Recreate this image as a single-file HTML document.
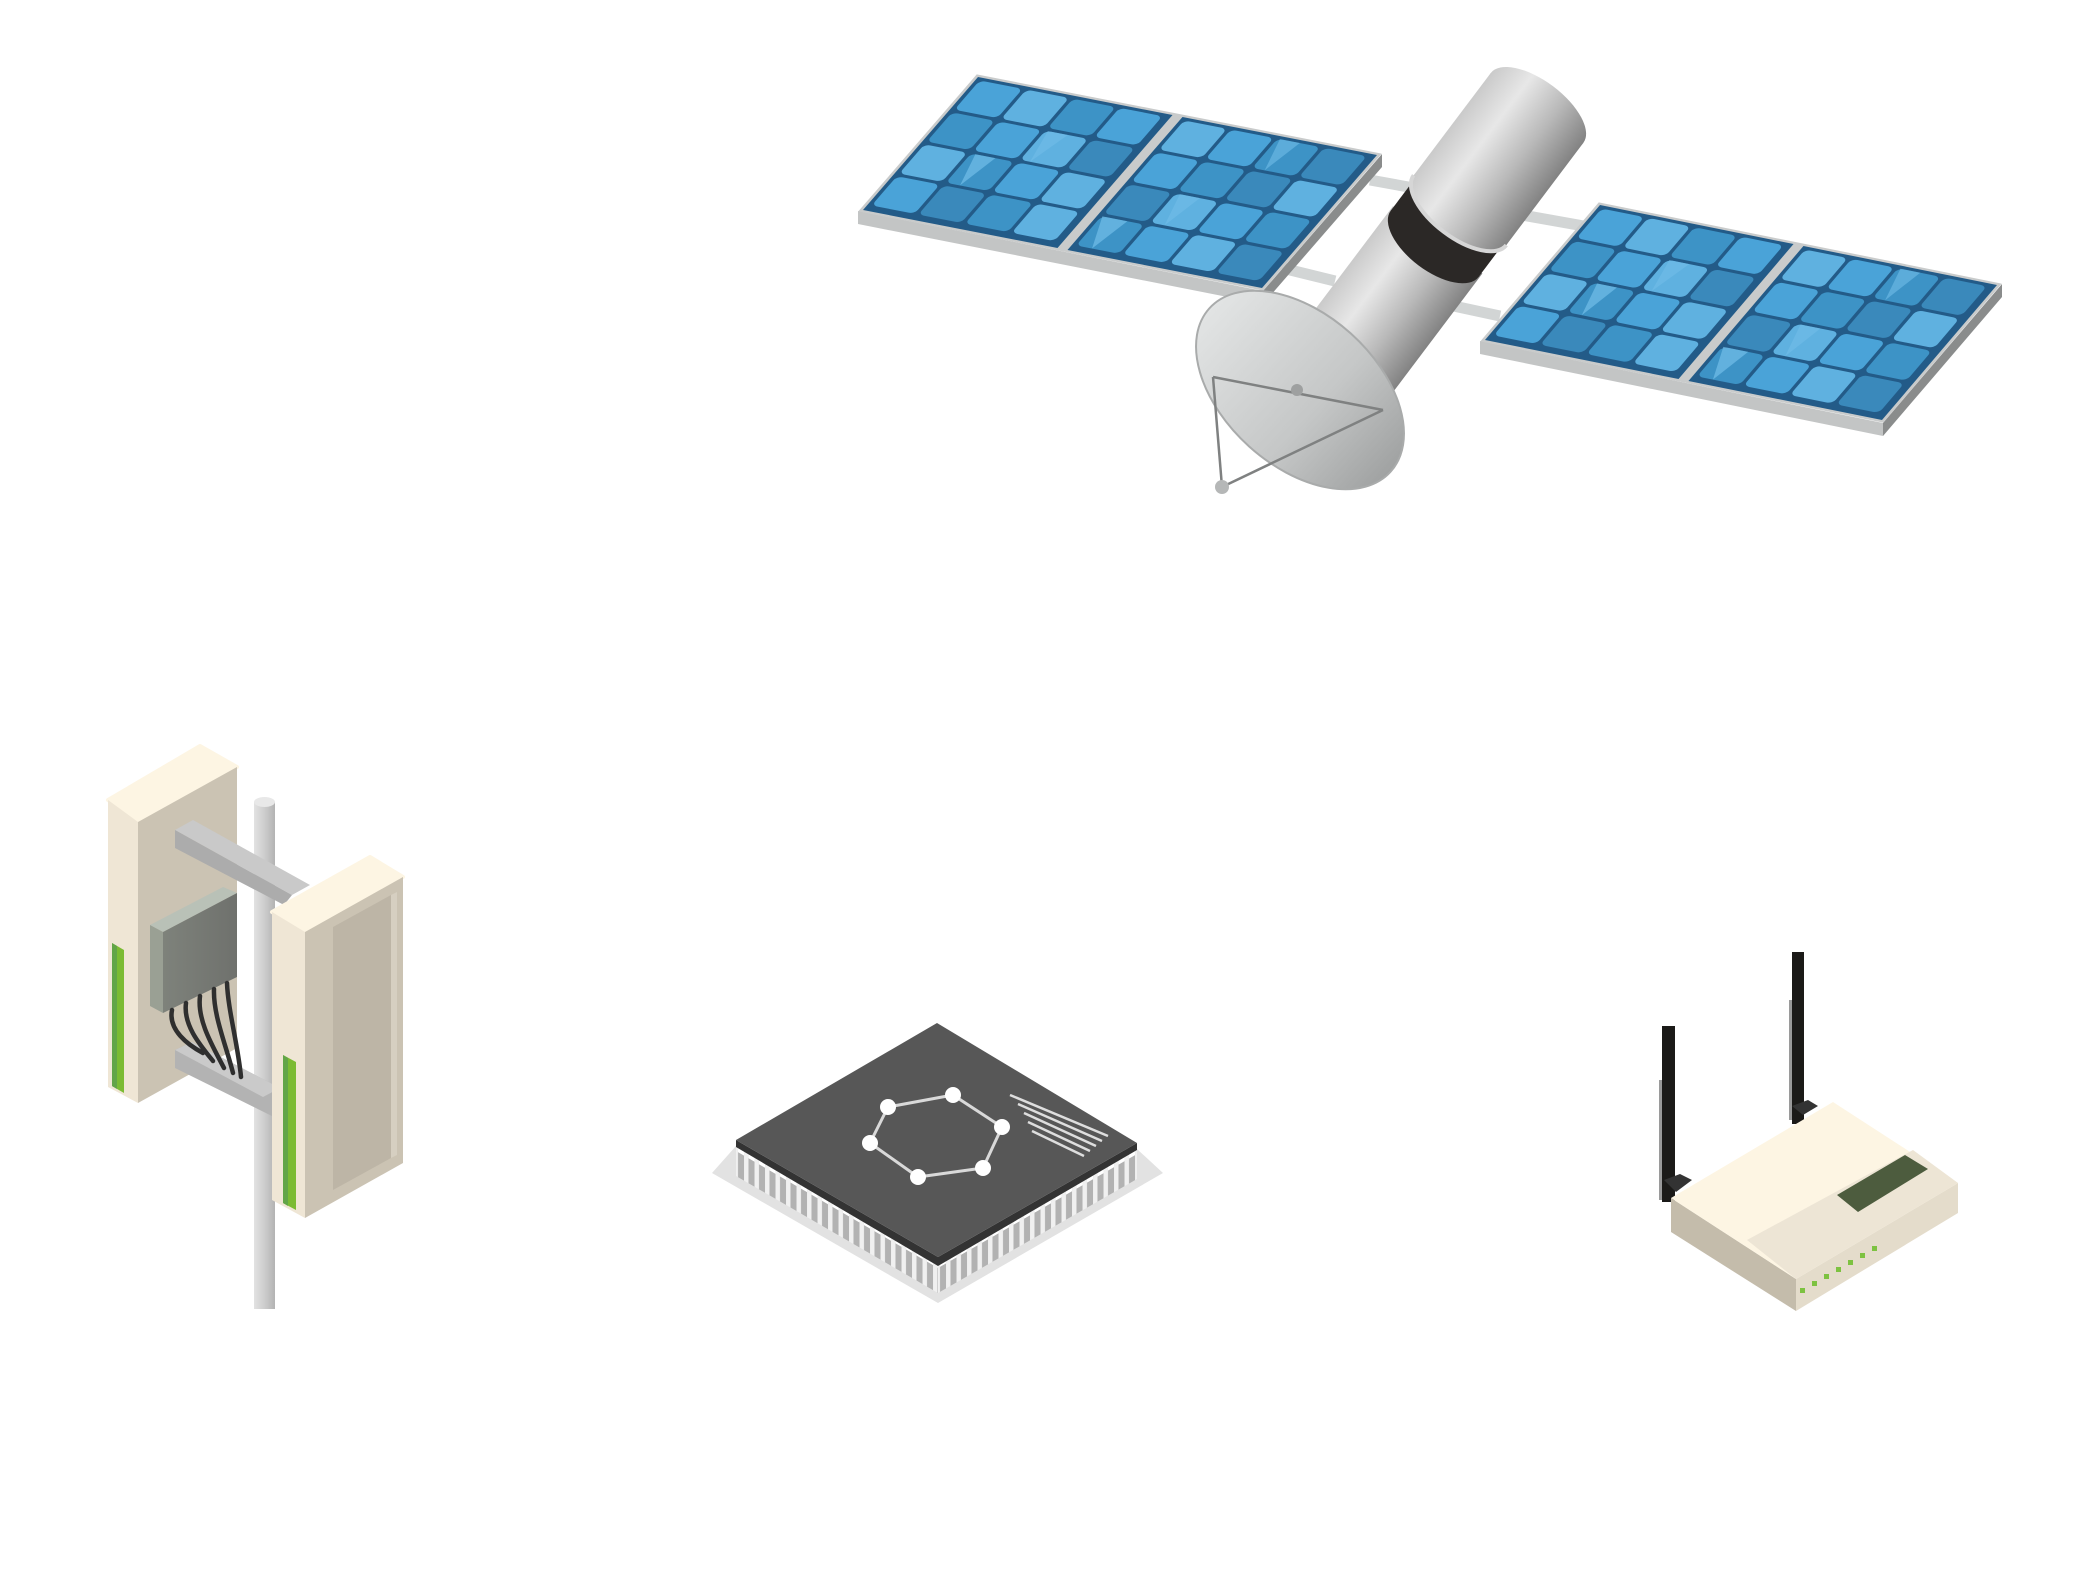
<!DOCTYPE html>
<html><head><meta charset="utf-8"><style>html,body{margin:0;padding:0;background:#fff;}svg{display:block;}</style></head>
<body>
<svg width="2084" height="1592" viewBox="0 0 2084 1592" xmlns="http://www.w3.org/2000/svg" xmlns:xlink="http://www.w3.org/1999/xlink">
<defs>
 <linearGradient id="cyl" x1="0" x2="1" y1="0" y2="0">
  <stop offset="0" stop-color="#cacaca"/><stop offset="0.3" stop-color="#e7e7e7"/><stop offset="0.65" stop-color="#b9b9b9"/><stop offset="1" stop-color="#828282"/>
 </linearGradient>
 <linearGradient id="dishg" x1="0" y1="0" x2="1" y2="0">
  <stop offset="0" stop-color="#e2e4e4"/><stop offset="0.6" stop-color="#c5c7c7"/><stop offset="1" stop-color="#a0a2a2"/>
 </linearGradient>
 <linearGradient id="poleg" x1="0" x2="1" y1="0" y2="0">
  <stop offset="0" stop-color="#e2e2e2"/><stop offset="0.5" stop-color="#cdcdcd"/><stop offset="1" stop-color="#b3b3b3"/>
 </linearGradient>
 <linearGradient id="boxg" x1="0" x2="1" y1="0" y2="0">
  <stop offset="0" stop-color="#7e827b"/><stop offset="1" stop-color="#6f716d"/>
 </linearGradient>
 <pattern id="pins" width="10.5" height="40" patternUnits="userSpaceOnUse">
  <rect x="0" y="0" width="10.5" height="40" fill="#f0f0f0"/>
  <rect x="2" y="0" width="6" height="40" fill="#b2b2b2"/>
  <rect x="2" y="0" width="6" height="5" fill="#ffffff"/>
 </pattern>
 <g id="cells">
  <rect x="-6" y="-6" width="812" height="412" fill="#c9cbcb"/>
  <rect x="0" y="0" width="390" height="400" fill="#235b88"/>
  <rect x="410" y="0" width="390" height="400" fill="#235b88"/>
  <rect x="8" y="8" width="86" height="88" rx="12" fill="#4aa3d8"/>
  <rect x="101.5" y="8" width="86" height="88" rx="12" fill="#5fb1e0"/>
  <rect x="195" y="8" width="86" height="88" rx="12" fill="#3d93c6"/>
  <rect x="288.5" y="8" width="86" height="88" rx="12" fill="#4aa3d8"/>
  <rect x="418" y="8" width="86" height="88" rx="12" fill="#5fb1e0"/>
  <rect x="511.5" y="8" width="86" height="88" rx="12" fill="#4aa3d8"/>
  <rect x="605" y="8" width="86" height="88" rx="12" fill="#3d93c6"/>
  <rect x="698.5" y="8" width="86" height="88" rx="12" fill="#3a89bb"/>
  <rect x="8" y="104" width="86" height="88" rx="12" fill="#3d93c6"/>
  <rect x="101.5" y="104" width="86" height="88" rx="12" fill="#4aa3d8"/>
  <rect x="195" y="104" width="86" height="88" rx="12" fill="#5fb1e0"/>
  <rect x="288.5" y="104" width="86" height="88" rx="12" fill="#3a89bb"/>
  <rect x="418" y="104" width="86" height="88" rx="12" fill="#4aa3d8"/>
  <rect x="511.5" y="104" width="86" height="88" rx="12" fill="#3d93c6"/>
  <rect x="605" y="104" width="86" height="88" rx="12" fill="#3a89bb"/>
  <rect x="698.5" y="104" width="86" height="88" rx="12" fill="#5fb1e0"/>
  <rect x="8" y="200" width="86" height="88" rx="12" fill="#5fb1e0"/>
  <rect x="101.5" y="200" width="86" height="88" rx="12" fill="#3d93c6"/>
  <rect x="195" y="200" width="86" height="88" rx="12" fill="#4aa3d8"/>
  <rect x="288.5" y="200" width="86" height="88" rx="12" fill="#5fb1e0"/>
  <rect x="418" y="200" width="86" height="88" rx="12" fill="#3a89bb"/>
  <rect x="511.5" y="200" width="86" height="88" rx="12" fill="#5fb1e0"/>
  <rect x="605" y="200" width="86" height="88" rx="12" fill="#4aa3d8"/>
  <rect x="698.5" y="200" width="86" height="88" rx="12" fill="#3d93c6"/>
  <rect x="8" y="296" width="86" height="88" rx="12" fill="#4aa3d8"/>
  <rect x="101.5" y="296" width="86" height="88" rx="12" fill="#3a89bb"/>
  <rect x="195" y="296" width="86" height="88" rx="12" fill="#3d93c6"/>
  <rect x="288.5" y="296" width="86" height="88" rx="12" fill="#5fb1e0"/>
  <rect x="418" y="296" width="86" height="88" rx="12" fill="#3d93c6"/>
  <rect x="511.5" y="296" width="86" height="88" rx="12" fill="#4aa3d8"/>
  <rect x="605" y="296" width="86" height="88" rx="12" fill="#5fb1e0"/>
  <rect x="698.5" y="296" width="86" height="88" rx="12" fill="#3a89bb"/>
  <polygon points="110,200 150,200 130,288" fill="#72bde8" opacity="0.7"/>
  <polygon points="420,296 470,296 450,384" fill="#72bde8" opacity="0.7"/>
  <polygon points="200,104 240,104 215,192" fill="#72bde8" opacity="0.6"/>
  <polygon points="610,8 650,8 630,96" fill="#72bde8" opacity="0.6"/>
  <polygon points="520,200 560,200 540,288" fill="#72bde8" opacity="0.6"/>
 </g>
</defs>

<rect width="2084" height="1592" fill="#ffffff"/>

<!-- SATELLITE struts -->
<g stroke="#d2d5d5" stroke-width="11" stroke-linecap="butt">
 <line x1="1370" y1="180" x2="1425" y2="190"/>
 <line x1="1282" y1="268" x2="1335" y2="281"/>
 <line x1="1505" y1="212" x2="1595" y2="228"/>
 <line x1="1435" y1="302" x2="1500" y2="316"/>
</g>

<polygon points="858,211 1263,291 1263,304 858,224" fill="#c3c5c5"/>
<polygon points="1382,154 1263,291 1263,304 1382,167" fill="#8a8c8c"/>
<g transform="matrix(0.49875,0.0975,-0.2875,0.3325,978,77)">
 <use xlink:href="#cells" href="#cells"/>
</g>

<polygon points="1480,341 1883,423 1883,436 1480,354" fill="#c3c5c5"/>
<polygon points="2002,284 1883,423 1883,436 2002,297" fill="#8a8c8c"/>
<g transform="matrix(0.49625,0.1,-0.2875,0.3375,1600,205)">
 <use xlink:href="#cells" href="#cells"/>
</g>

<g transform="translate(1537,108) rotate(37)">
 <rect x="-56" y="165" width="112" height="170" fill="url(#cyl)"/>
 <ellipse cx="0" cy="335" rx="56" ry="27" fill="url(#cyl)"/>
 <rect x="-55" y="128" width="110" height="42" fill="#2b2826"/>
 <ellipse cx="0" cy="170" rx="55" ry="27" fill="#2b2826"/>
 <rect x="-58" y="0" width="116" height="128" fill="url(#cyl)"/>
 <ellipse cx="0" cy="128" rx="58" ry="27" fill="url(#cyl)"/>
 <path d="M-58,128 A58,27 0 0 0 58,128" fill="none" stroke="#d6d6d6" stroke-width="4"/>
 <ellipse cx="0" cy="0" rx="58" ry="27" fill="url(#cyl)"/>
</g>

<g transform="translate(1300,390) rotate(42)">
 <ellipse cx="0" cy="0" rx="122" ry="76" fill="url(#dishg)" stroke="#a9abab" stroke-width="2"/>
</g>
<g stroke="#7f8181" stroke-width="2.5" fill="none">
 <line x1="1213" y1="377" x2="1383" y2="410"/>
 <line x1="1213" y1="377" x2="1222" y2="487"/>
 <line x1="1383" y1="410" x2="1222" y2="487"/>
</g>
<circle cx="1297" cy="390" r="6" fill="#9ea0a0"/>
<circle cx="1222" cy="487" r="7" fill="#b5b7b7"/>

<!-- ANTENNA TOWER -->
<polygon points="108,800 200,746 237,767 138,822" fill="#fdf5e3" stroke="#fdf5e3" stroke-width="4" stroke-linejoin="round"/>
<polygon points="108,800 138,822 138,1103 108,1087" fill="#efe6d5"/>
<polygon points="138,822 237,767 237,1048 138,1103" fill="#cbc3b3"/>
<polygon points="112,943 124,950 124,1093 112,1086" fill="#7bbb33"/>
<polygon points="112,943 117,946 117,1089 112,1086" fill="#62a548"/>

<rect x="254" y="802" width="21" height="507" fill="url(#poleg)"/>
<ellipse cx="264.5" cy="802" rx="10.5" ry="5" fill="#e8e8e8"/>

<polygon points="175,830 193,820 310,885 292,895" fill="#c9c9c9"/>
<polygon points="175,830 292,895 284,905 175,848" fill="#acacac"/>

<polygon points="150,925 223,887 237,893 163,932" fill="#b9c1b7"/>
<polygon points="150,925 163,932 163,1013 150,1006" fill="#9aa094"/>
<polygon points="163,932 237,893 237,977 163,1013" fill="url(#boxg)"/>

<polygon points="175,1050 192,1042 280,1088 280,1120 175,1068" fill="#b3b3b3"/>
<polygon points="175,1050 192,1042 280,1088 263,1097" fill="#cacaca"/>

<g stroke="#2f2f2f" stroke-width="4.5" fill="none" stroke-linecap="round">
 <path d="M172,1010 C168,1030 188,1045 203,1053"/>
 <path d="M186,1003 C183,1025 200,1045 213,1061"/>
 <path d="M200,996 C197,1020 212,1045 224,1068"/>
 <path d="M214,989 C213,1015 226,1045 233,1073"/>
 <path d="M227,983 C228,1010 238,1045 241,1077"/>
</g>

<polygon points="272,912 370,857 403,877 305,932" fill="#fdf5e3" stroke="#fdf5e3" stroke-width="4" stroke-linejoin="round"/>
<polygon points="272,912 305,932 305,1218 272,1200" fill="#efe6d5"/>
<polygon points="305,932 403,877 403,1163 305,1218" fill="#cbc3b3"/>
<polygon points="333,927 391,895 391,1158 333,1190" fill="#bdb5a6"/>
<polygon points="391,895 397,892 397,1155 391,1158" fill="#d6cfc1"/>
<polygon points="283,1055 296,1062 296,1210 283,1203" fill="#7bbb33"/>
<polygon points="283,1055 288,1058 288,1206 283,1203" fill="#62a548"/>

<!-- CHIP -->
<polygon points="712,1173 736,1146 938,1263 1137,1149 1163,1173 938,1303" fill="#e2e2e2"/>
<g transform="translate(736,1146) skewY(30.07)">
 <rect x="0" y="0" width="202" height="30" fill="url(#pins)"/>
</g>
<g transform="translate(938,1263) skewY(-29.8)">
 <rect x="0" y="0" width="199" height="30" fill="url(#pins)"/>
</g>
<polygon points="736,1140 938,1257 1137,1143 1137,1150 938,1266 736,1147" fill="#333333"/>
<polygon points="937,1023 1137,1143 938,1257 736,1140" fill="#575757"/>
<polyline points="888,1107 953,1095 1002,1127 983,1168 918,1177 870,1143 888,1107" fill="none" stroke="#d9d9d9" stroke-width="3"/>
<g fill="#ffffff">
 <circle cx="888" cy="1107" r="8"/>
 <circle cx="953" cy="1095" r="8"/>
 <circle cx="1002" cy="1127" r="8"/>
 <circle cx="983" cy="1168" r="8"/>
 <circle cx="918" cy="1177" r="8"/>
 <circle cx="870" cy="1143" r="8"/>
</g>
<g stroke="#dedede" stroke-width="2.5">
 <line x1="1010" y1="1095" x2="1108" y2="1136"/>
 <line x1="1018" y1="1104" x2="1102" y2="1141"/>
 <line x1="1024" y1="1113" x2="1096" y2="1146"/>
 <line x1="1028" y1="1122" x2="1090" y2="1151"/>
 <line x1="1032" y1="1131" x2="1084" y2="1156"/>
</g>

<!-- ROUTER -->
<rect x="1659" y="1080" width="4" height="120" fill="#9a9a9a"/>
<rect x="1662" y="1026" width="13" height="176" fill="#1b1a18"/>
<rect x="1789" y="1000" width="4" height="120" fill="#9a9a9a"/>
<rect x="1792" y="952" width="12" height="172" fill="#1b1a18"/>
<polygon points="1664,1180 1680,1174 1692,1180 1676,1192" fill="#333"/>
<polygon points="1792,1106 1808,1100 1818,1106 1803,1115" fill="#333"/>

<polygon points="1671,1198 1796,1279 1796,1311 1671,1232" fill="#c4bcab"/>
<polygon points="1796,1279 1958,1183 1958,1213 1796,1311" fill="#e4dccb"/>
<polygon points="1671,1198 1833,1102 1958,1183 1796,1279" fill="#fdf5e3"/>
<polygon points="1747,1240 1913,1150 1958,1183 1796,1279" fill="#ede5d5"/>
<polygon points="1837,1195 1905,1155 1928,1169 1858,1212" fill="#4d5c3e"/>
<g fill="#7dc241">
 <rect x="1800" y="1288" width="5" height="5"/>
 <rect x="1812" y="1281" width="5" height="5"/>
 <rect x="1824" y="1274" width="5" height="5"/>
 <rect x="1836" y="1267" width="5" height="5"/>
 <rect x="1848" y="1260" width="5" height="5"/>
 <rect x="1860" y="1253" width="5" height="5"/>
 <rect x="1872" y="1246" width="5" height="5"/>
</g>
</svg>
</body></html>
